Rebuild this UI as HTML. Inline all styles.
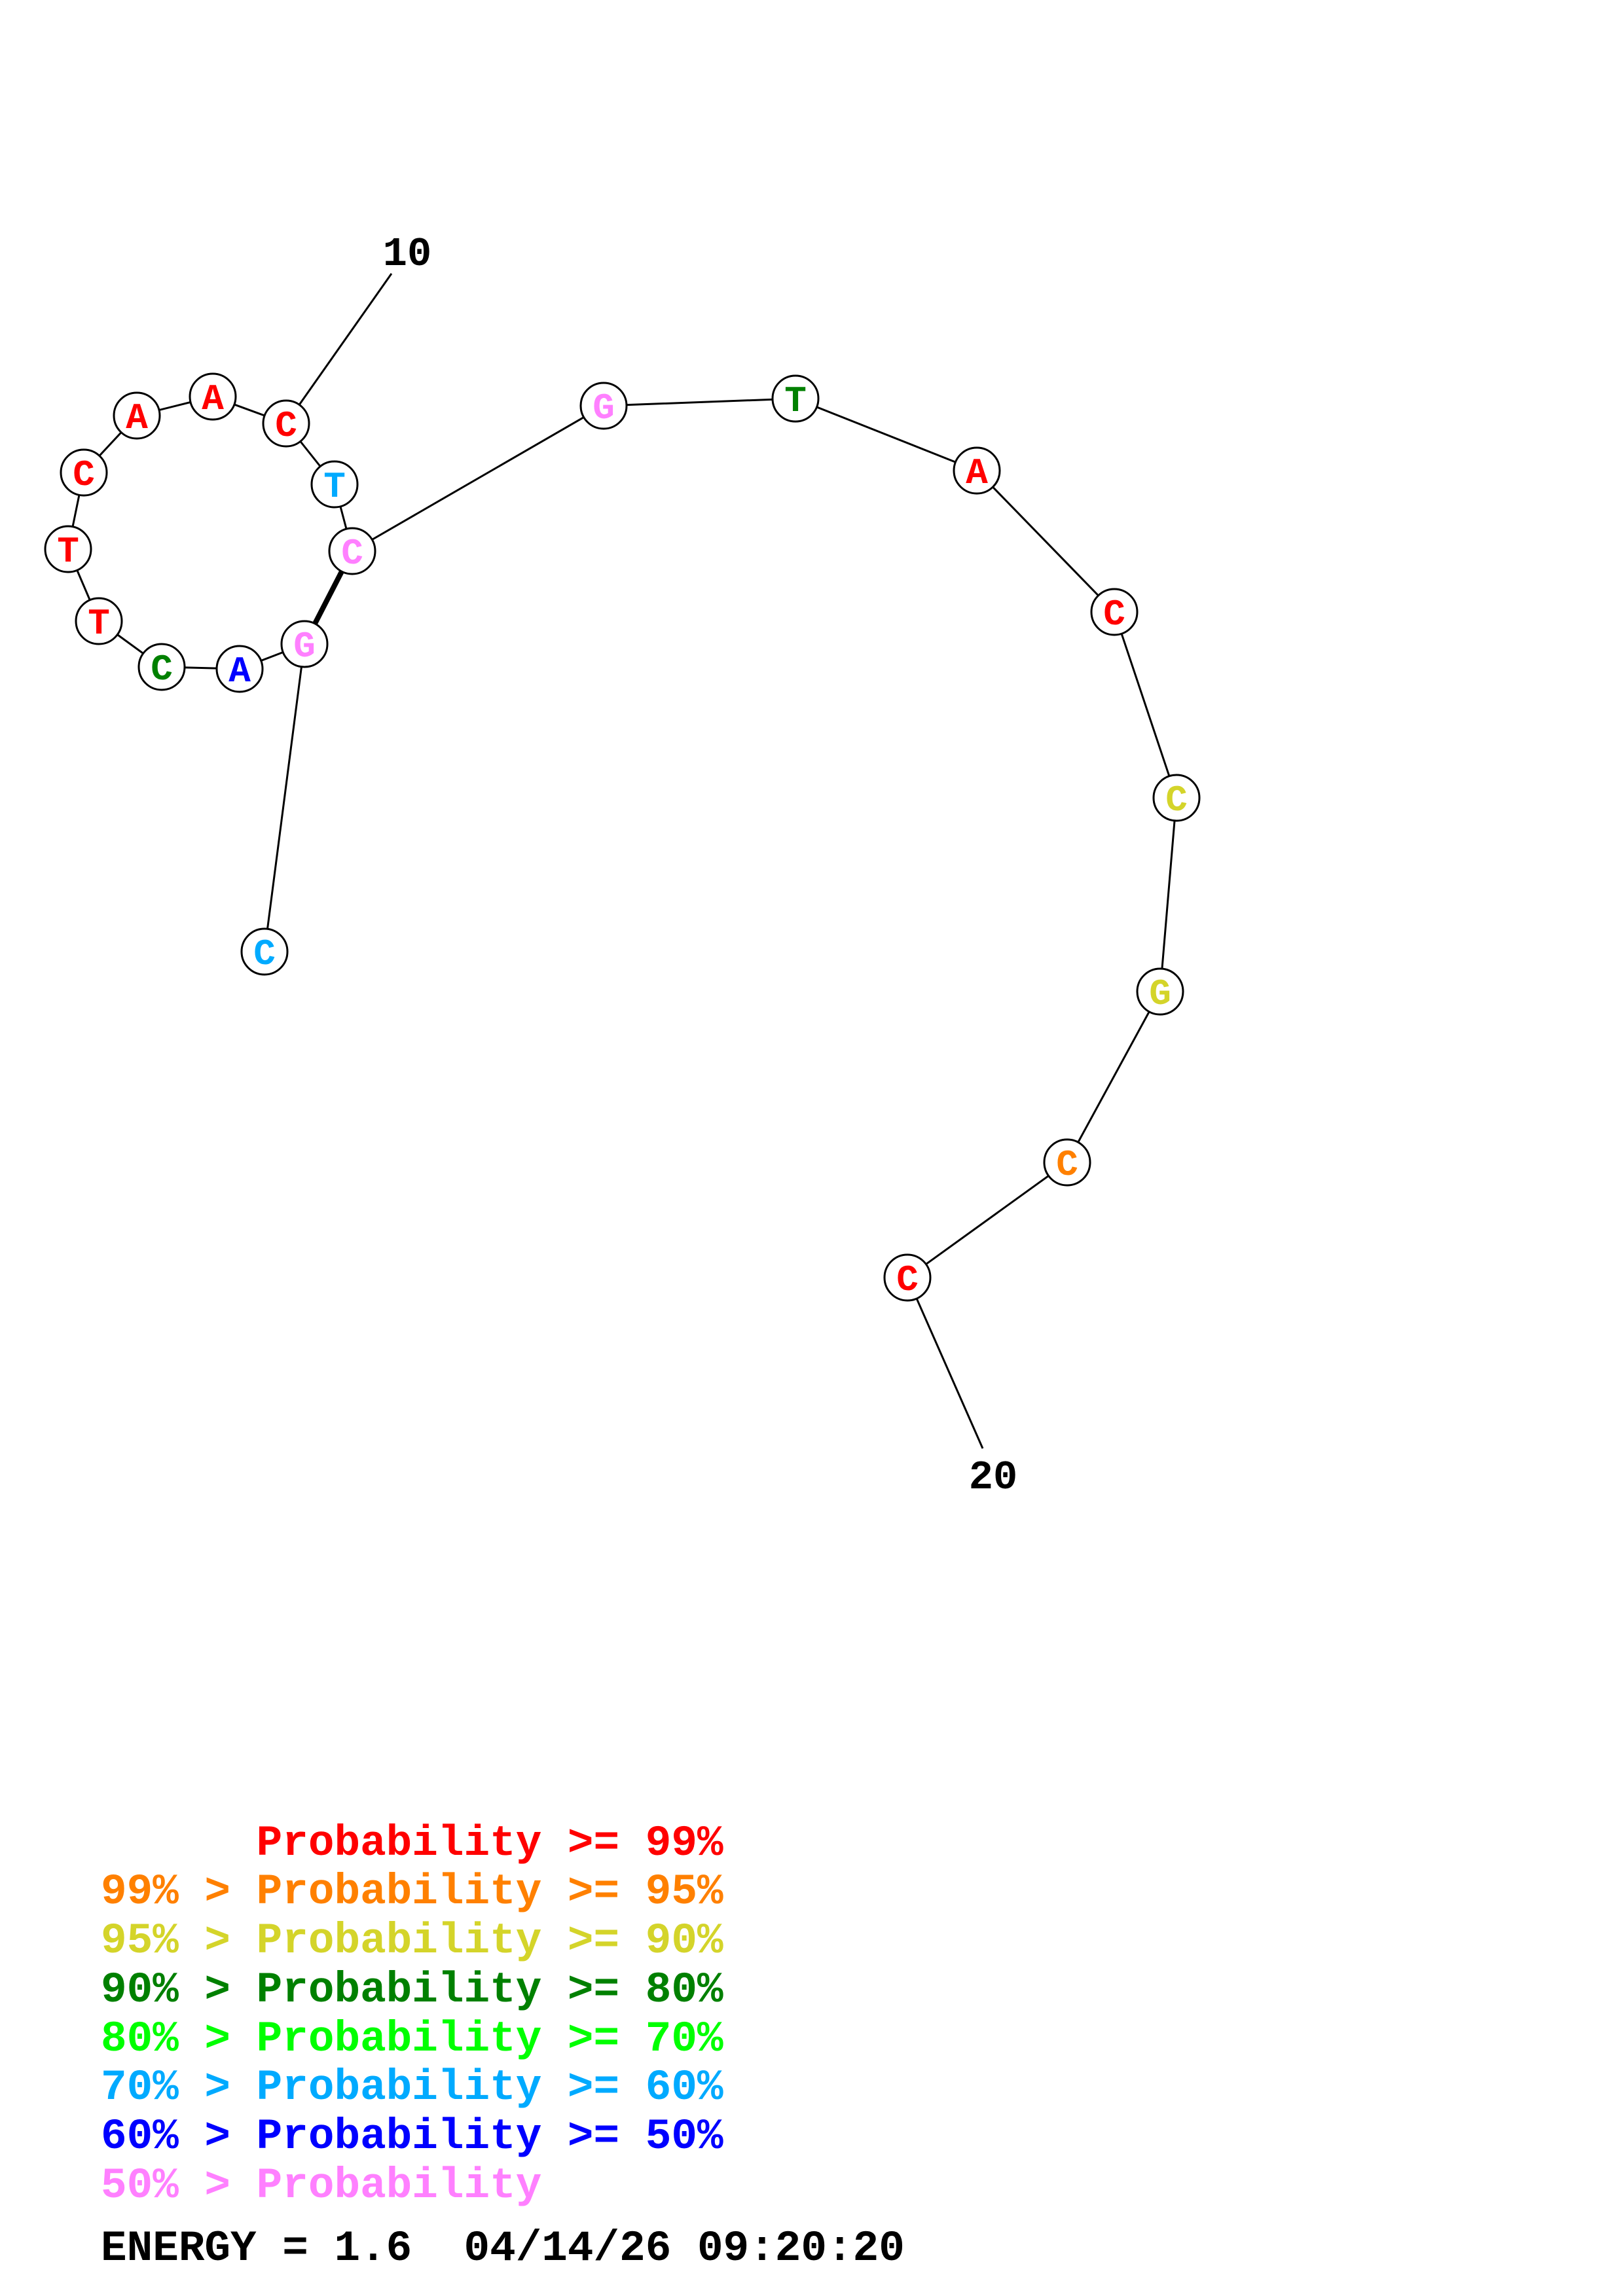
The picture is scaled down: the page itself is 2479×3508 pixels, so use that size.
<!DOCTYPE html>
<html><head><meta charset="utf-8"><style>body{margin:0;background:#fff}svg{display:block}text{white-space:pre}</style></head>
<body>
<svg width="2479" height="3508" viewBox="0 0 2479 3508" xmlns="http://www.w3.org/2000/svg">
<g stroke="#000" stroke-width="3" fill="none">
<line x1="437" y1="647" x2="598" y2="418"/>
<polyline points="437,647 325,606 209,635 128,722 104,839 151,949 247,1019 366,1022 465,984"/>
<polyline points="437,647 511,740 538,842 922,620 1215,609 1492,719 1702,935 1797,1219 1772,1515 1630,1776 1386,1952 1501,2213"/>
<line x1="465" y1="984" x2="404" y2="1454"/>
<line x1="538" y1="842" x2="465" y2="984" stroke-width="8"/>
</g>
<g stroke="#000" stroke-width="3" fill="#fff">
<circle cx="437" cy="647" r="35"/><circle cx="325" cy="606" r="35"/><circle cx="209" cy="635" r="35"/>
<circle cx="128" cy="722" r="35"/><circle cx="104" cy="839" r="35"/><circle cx="151" cy="949" r="35"/>
<circle cx="247" cy="1019" r="35"/><circle cx="366" cy="1022" r="35"/><circle cx="465" cy="984" r="35"/>
<circle cx="538" cy="842" r="35"/><circle cx="511" cy="740" r="35"/><circle cx="922" cy="620" r="35"/>
<circle cx="1215" cy="609" r="35"/><circle cx="1492" cy="719" r="35"/><circle cx="1702" cy="935" r="35"/>
<circle cx="1797" cy="1219" r="35"/><circle cx="1772" cy="1515" r="35"/><circle cx="1630" cy="1776" r="35"/>
<circle cx="1386" cy="1952" r="35"/><circle cx="404" cy="1454" r="35"/>
</g>
<g font-family="Liberation Mono, monospace" font-weight="bold" font-size="56" text-anchor="middle">
<text x="437" y="666" fill="#f00">C</text><text x="325" y="625" fill="#f00">A</text><text x="209" y="654" fill="#f00">A</text>
<text x="128" y="741" fill="#f00">C</text><text x="104" y="858" fill="#f00">T</text><text x="151" y="968" fill="#f00">T</text>
<text x="247" y="1038" fill="#008000">C</text><text x="366" y="1041" fill="#00f">A</text><text x="465" y="1003" fill="#ff80ff">G</text>
<text x="538" y="861" fill="#ff80ff">C</text><text x="511" y="759" fill="#00aaff">T</text><text x="922" y="639" fill="#ff80ff">G</text>
<text x="1215" y="628" fill="#008000">T</text><text x="1492" y="738" fill="#f00">A</text><text x="1702" y="954" fill="#f00">C</text>
<text x="1797" y="1238" fill="#d4d42a">C</text><text x="1772" y="1534" fill="#d4d42a">G</text><text x="1630" y="1795" fill="#ff8000">C</text>
<text x="1386" y="1971" fill="#f00">C</text><text x="404" y="1473" fill="#00aaff">C</text>
<text x="622" y="405" font-size="62" fill="#000">10</text>
<text x="1517" y="2274" font-size="62" fill="#000">20</text>
</g>
<g font-family="Liberation Mono, monospace" font-weight="bold" font-size="66">
<text x="154" y="2834" fill="#f00">      Probability &gt;= 99%</text>
<text x="154" y="2908" fill="#ff8000">99% &gt; Probability &gt;= 95%</text>
<text x="154" y="2983" fill="#d4d42a">95% &gt; Probability &gt;= 90%</text>
<text x="154" y="3058" fill="#008000">90% &gt; Probability &gt;= 80%</text>
<text x="154" y="3133" fill="#00ff00">80% &gt; Probability &gt;= 70%</text>
<text x="154" y="3207" fill="#00aaff">70% &gt; Probability &gt;= 60%</text>
<text x="154" y="3282" fill="#0000ff">60% &gt; Probability &gt;= 50%</text>
<text x="154" y="3357" fill="#ff80ff">50% &gt; Probability</text>
<text x="154" y="3453" fill="#000">ENERGY = 1.6  04/14/26 09:20:20</text>
</g>
</svg>
</body></html>
